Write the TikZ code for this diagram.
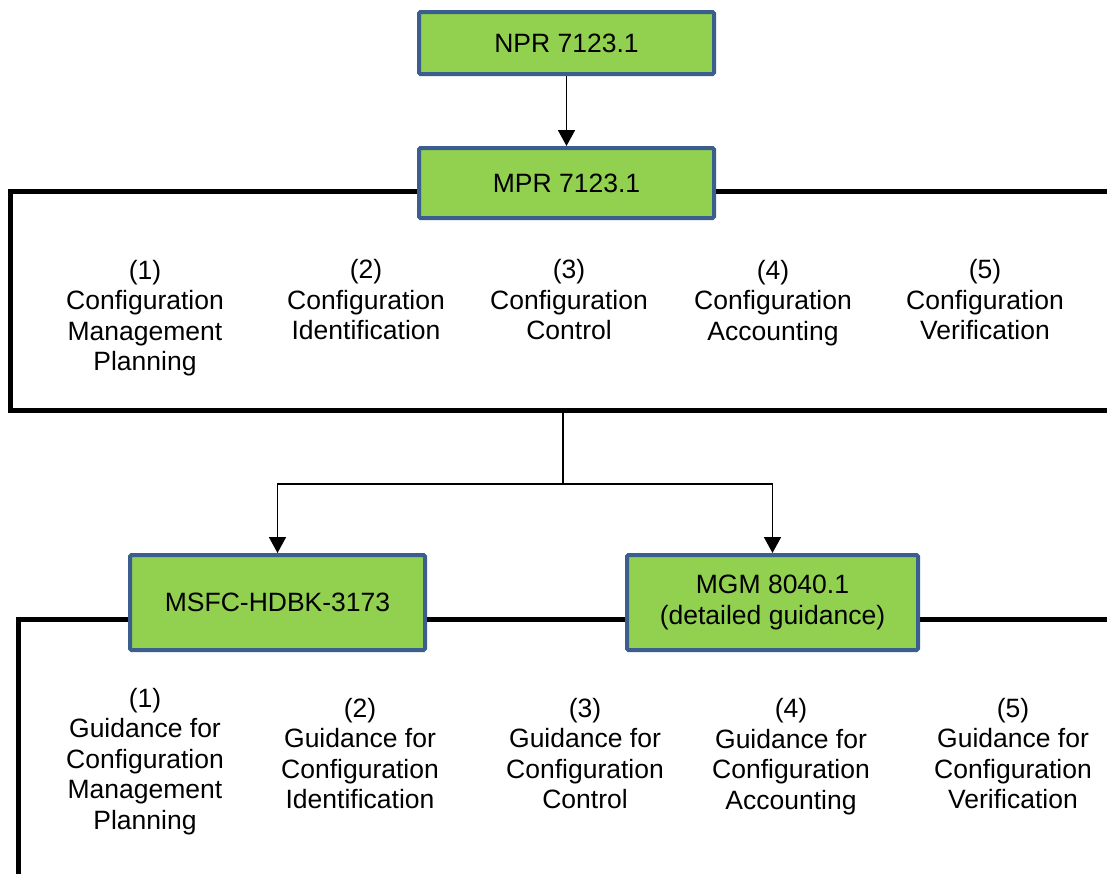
\documentclass[tikz,border=0pt]{standalone}
\usepackage{fontspec}
\setmainfont{Liberation Sans}
\usetikzlibrary{arrows.meta}
\definecolor{boxgreen}{HTML}{92D050}
\definecolor{boxblue}{HTML}{3A5F8F}
\tikzset{
  docbox/.style={draw=boxblue,line width=4pt,fill=boxgreen,rounded corners=1.5pt,minimum width=295pt,inner sep=0pt,align=center,font=\fontsize{26.5}{30.5}\selectfont},
  topic/.style={align=center,inner sep=0pt,font=\fontsize{26.5}{30.5}\selectfont},
  frameline/.style={draw,line width=5pt},
  link/.style={draw,line width=1.8pt},
  linkarrow/.style={link,-{Triangle[width=17pt,length=16pt]}}
}
\begin{document}
\begin{tikzpicture}[x=1pt,y=-1pt]
\useasboundingbox (0,0) rectangle (1107,873);
\coordinate (tl) at (10,191);
\coordinate (tr) at (1112,191);
\coordinate (bl) at (10,410);
\coordinate (br) at (1112,410);
\coordinate (split) at (563,410);
\coordinate (fork) at (563,484);
\coordinate (btl) at (18,619);
\coordinate (btr) at (1112,619);
\coordinate (bbl) at (18,880);
\node[docbox,minimum height=62pt] (npr) at (566.5,43) {NPR 7123.1};
\node[docbox,minimum height=70pt] (mpr) at (566.5,183) {MPR 7123.1};
\node[docbox,minimum height=95pt] (msfc) at (277.5,602.5) {MSFC-HDBK-3173};
\node[docbox,minimum height=95pt,minimum width=291pt] (mgm) at (772.5,602.5) {MGM 8040.1\\(detailed guidance)};
\node[topic] (t1) at (145,318) {(1)\\Configuration\\Management\\Planning};
\node[topic] (t2) at (366,300) {(2)\\Configuration\\Identification};
\node[topic] (t3) at (569,300) {(3)\\Configuration\\Control};
\node[topic] (t4) at (773,303) {(4)\\Configuration\\Accounting};
\node[topic] (t5) at (985,300) {(5)\\Configuration\\Verification};
\node[topic] (g1) at (145,761.5) {(1)\\Guidance for\\Configuration\\Management\\Planning};
\node[topic] (g2) at (360,753.5) {(2)\\Guidance for\\Configuration\\Identification};
\node[topic] (g3) at (585,753.5) {(3)\\Guidance for\\Configuration\\Control};
\node[topic] (g4) at (791,756.5) {(4)\\Guidance for\\Configuration\\Accounting};
\node[topic] (g5) at (1013,753.5) {(5)\\Guidance for\\Configuration\\Verification};
\path[frameline] (tl -| mpr.west) -- (tl) -- (bl) -- (br);
\path[frameline] (tl -| mpr.east) -- (tr);
\path[frameline] (btl -| msfc.west) -- (btl) -- (bbl);
\path[frameline] (btl -| msfc.east) -- (btl -| mgm.west);
\path[frameline] (btl -| mgm.east) -- (btr);
\path[linkarrow] (npr.south) -- (mpr.north);
\path[link] (split) -- (fork);
\path[linkarrow] (fork) -| (msfc.north);
\path[linkarrow] (fork) -| (mgm.north);
\end{tikzpicture}
\end{document}
